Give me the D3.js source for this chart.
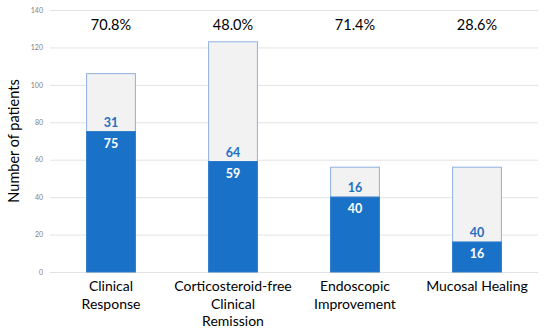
<!DOCTYPE html>
<html>
<head>
<meta charset="utf-8">
<script src="https://cdn.jsdelivr.net/npm/d3@7"></script>
<style>
  body { margin: 0; background: #fff; }
  svg { display: block; font-family: Lato, 'Open Sans', sans-serif; }
</style>
</head>
<body>
<div id="chart"></div>
<script>
// data
var categories = [
  ['Clinical', 'Response'],
  ['Corticosteroid-free', 'Clinical', 'Remission'],
  ['Endoscopic', 'Improvement'],
  ['Mucosal Healing']
]
var achieved = [75, 59, 40, 16]
var notAchieved = [31, 64, 16, 40]
var percents = ['70.8%', '48.0%', '71.4%', '28.6%']
var yTicks = [0, 20, 40, 60, 80, 100, 120, 140]

var width = 550
var height = 331
var margin = { top: 10, right: 12, bottom: 59, left: 50 }
var h = height - margin.top - margin.bottom
var w = width - margin.left - margin.right

var svg = d3.select('#chart').append('svg')
  .attr('width', width)
  .attr('height', height)

var g = svg.append('g')
  .attr('transform', 'translate(' + margin.left + ',' + margin.top + ')')

var x = d3.scaleBand()
  .domain(d3.range(categories.length))
  .range([0, w])
  .paddingInner(0.6)
  .paddingOuter(0.3)

var y = d3.scaleLinear().domain([0, 140]).range([h, 0])

// grid + tick labels
var yAxis = d3.axisLeft(y).tickValues(yTicks).tickSize(-w).tickPadding(7)
g.append('g').attr('class', 'y axis').call(yAxis)
  .call(function (s) {
    s.select('.domain').remove()
    s.selectAll('line').attr('stroke', '#e3e3e3')
    s.selectAll('text').attr('fill', '#808080').style('font-size', '7px')
      .style('font-family', 'Lato, sans-serif')
  })

svg.append('text')
  .attr('transform', 'translate(19,' + (margin.top + h / 2) + ') rotate(-90)')
  .attr('text-anchor', 'middle')
  .style('font-size', '14.5px')
  .attr('fill', '#000')
  .text('Number of patients')

var data = g.append('g').attr('class', 'data')
var idx = d3.range(categories.length)

data.selectAll('rect.rest').data(idx).enter().append('rect')
  .attr('class', 'rest')
  .attr('x', function (i) { return x(i) })
  .attr('width', x.bandwidth())
  .attr('y', function (i) { return y(achieved[i] + notAchieved[i]) })
  .attr('height', function (i) { return y(achieved[i]) - y(achieved[i] + notAchieved[i]) })
  .attr('fill', '#f2f2f2')
  .attr('stroke', '#8fb0dc')
  .attr('stroke-width', 1)

data.selectAll('rect.hit').data(idx).enter().append('rect')
  .attr('class', 'hit')
  .attr('x', function (i) { return x(i) })
  .attr('width', x.bandwidth())
  .attr('y', function (i) { return y(achieved[i]) })
  .attr('height', function (i) { return y(0) - y(achieved[i]) })
  .attr('fill', '#1a72c8')
  .attr('stroke', '#2a78c8')
  .attr('stroke-width', 1)

// value labels
data.selectAll('text.rest').data(idx).enter().append('text')
  .attr('x', function (i) { return x(i) + x.bandwidth() / 2 })
  .attr('y', function (i) { return y(achieved[i]) - 5 })
  .attr('text-anchor', 'middle')
  .attr('fill', '#1f6fc4')
  .style('font-size', '12.5px')
  .style('font-weight', 'bold')
  .text(function (i) { return notAchieved[i] })

data.selectAll('text.hit').data(idx).enter().append('text')
  .attr('x', function (i) { return x(i) + x.bandwidth() / 2 })
  .attr('y', function (i) { return y(achieved[i]) + 16 })
  .attr('text-anchor', 'middle')
  .attr('fill', '#fff')
  .style('font-size', '12.5px')
  .style('font-weight', 'bold')
  .text(function (i) { return achieved[i] })

// percentages on top
g.selectAll('text.pct').data(idx).enter().append('text')
  .attr('x', function (i) { return x(i) + x.bandwidth() / 2 })
  .attr('y', 20)
  .attr('text-anchor', 'middle')
  .attr('fill', '#000')
  .style('font-size', '14.5px')
  .text(function (i) { return percents[i] })

// category labels
var cat = g.selectAll('text.cat').data(idx).enter().append('text')
  .attr('x', function (i) { return x(i) + x.bandwidth() / 2 })
  .attr('y', h + 19)
  .attr('text-anchor', 'middle')
  .attr('fill', '#000')
  .style('font-size', '14px')
cat.selectAll('tspan').data(function (i) { return categories[i] }).enter().append('tspan')
  .attr('x', function () { return d3.select(this.parentNode).attr('x') })
  .attr('dy', function (d, j) { return j === 0 ? 0 : 17.5 })
  .text(function (d) { return d })
</script>
</body>
</html>
